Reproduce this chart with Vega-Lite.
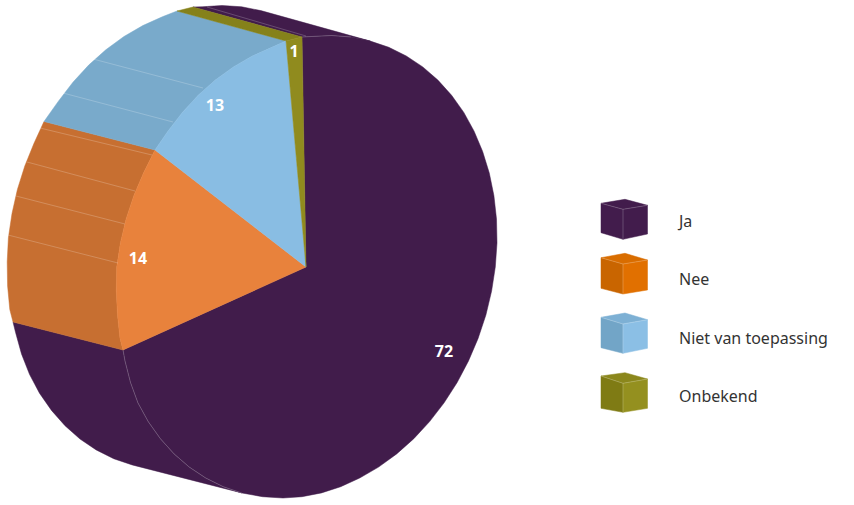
{
"$schema":"https://vega.github.io/schema/vega-lite/v6.json",
"width":854,"height":505,"padding":0,
"autosize":{"type":"fit","contains":"padding"},
"background":"#ffffff",
"config":{"view":{"stroke":null}},
"datasets":{
"faces":[
{"p":"Ja zij onder","x":-64.3,"y":-225.9},{"p":"Ja zij onder","x":-82.8,"y":-219.7},{"p":"Ja zij onder","x":-100.3,"y":-211},{"p":"Ja zij onder","x":-116.75,"y":-200.1},{"p":"Ja zij onder","x":-131.9,"y":-186.9},{"p":"Ja zij onder","x":-145.6,"y":-171.7},{"p":"Ja zij onder","x":-157.8,"y":-154.6},{"p":"Ja zij onder","x":-168.1,"y":-135.8},{"p":"Ja zij onder","x":-175.5,"y":-115.5},{"p":"Ja zij onder","x":-181,"y":-94},{"p":"Ja zij onder","x":-183,"y":-83},
{"p":"Ja zij onder","x":-293,"y":-55},{"p":"Ja zij onder","x":-290.5,"y":-65.2},{"p":"Ja zij onder","x":-284.5,"y":-86.9},{"p":"Ja zij onder","x":-276.5,"y":-107.3},{"p":"Ja zij onder","x":-266.5,"y":-126.2},{"p":"Ja zij onder","x":-254.5,"y":-143.4},{"p":"Ja zij onder","x":-241,"y":-158.7},{"p":"Ja zij onder","x":-226,"y":-172},{"p":"Ja zij onder","x":-209.8,"y":-182.9},{"p":"Ja zij onder","x":-192.3,"y":-191.7},{"p":"Ja zij onder","x":-173.8,"y":-197.9},
{"p":"Ja zij boven","x":-4,"y":230},{"p":"Ja zij boven","x":5.6,"y":230.5},{"p":"Ja zij boven","x":25.5,"y":231.5},{"p":"Ja zij boven","x":45.2,"y":230},{"p":"Ja zij boven","x":64.3,"y":225.9},{"p":"Ja zij boven","x":-45.2,"y":256.4},{"p":"Ja zij boven","x":-64.3,"y":260.2},{"p":"Ja zij boven","x":-84,"y":261.5},{"p":"Ja zij boven","x":-103.9,"y":260.2},{"p":"Ja zij boven","x":-113,"y":260},
{"p":"Nee zij","x":-183,"y":-83},{"p":"Nee zij","x":-186,"y":-71.4},{"p":"Nee zij","x":-188.5,"y":-48},{"p":"Nee zij","x":-189.7,"y":-24.1},{"p":"Nee zij","x":-189.3,"y":0},{"p":"Nee zij","x":-185.6,"y":24.1},{"p":"Nee zij","x":-179.9,"y":48},{"p":"Nee zij","x":-172.1,"y":71.4},{"p":"Nee zij","x":-162.5,"y":93.9},{"p":"Nee zij","x":-151,"y":117},
{"p":"Nee zij","x":-262,"y":145.5},{"p":"Nee zij","x":-272,"y":123.7},{"p":"Nee zij","x":-281.2,"y":101},{"p":"Nee zij","x":-288.6,"y":77.5},{"p":"Nee zij","x":-294,"y":53.5},{"p":"Nee zij","x":-297.6,"y":29.25},{"p":"Nee zij","x":-298.8,"y":5},{"p":"Nee zij","x":-298.4,"y":-19},{"p":"Nee zij","x":-296.2,"y":-42.5},{"p":"Nee zij","x":-293,"y":-55},
{"p":"Niet zij","x":-151,"y":117},{"p":"Niet zij","x":-138.1,"y":135.8},{"p":"Niet zij","x":-123.6,"y":154.6},{"p":"Niet zij","x":-107.8,"y":171.7},{"p":"Niet zij","x":-90.7,"y":186.9},{"p":"Niet zij","x":-72.55,"y":200.1},{"p":"Niet zij","x":-53.7,"y":211},{"p":"Niet zij","x":-34.2,"y":219.7},{"p":"Niet zij","x":-20,"y":226},
{"p":"Niet zij","x":-129,"y":256},{"p":"Niet zij","x":-143.7,"y":250.2},{"p":"Niet zij","x":-163.2,"y":241.4},{"p":"Niet zij","x":-182.05,"y":230.5},{"p":"Niet zij","x":-200.2,"y":217.2},{"p":"Niet zij","x":-217.3,"y":201.9},{"p":"Niet zij","x":-233.1,"y":184.7},{"p":"Niet zij","x":-247.6,"y":165.8},{"p":"Niet zij","x":-262,"y":145.5},
{"p":"Onb zij","x":-20,"y":226},{"p":"Onb zij","x":-4,"y":230},{"p":"Onb zij","x":-113,"y":260},{"p":"Onb zij","x":-129,"y":256},
{"p":"Ja vlak","x":0,"y":0},{"p":"Ja vlak","x":-4,"y":230},{"p":"Ja vlak","x":5.6,"y":230.5},{"p":"Ja vlak","x":25.5,"y":231.5},{"p":"Ja vlak","x":45.2,"y":230},{"p":"Ja vlak","x":64.3,"y":225.9},{"p":"Ja vlak","x":82.8,"y":219.7},{"p":"Ja vlak","x":100.3,"y":211},{"p":"Ja vlak","x":116.75,"y":200.1},{"p":"Ja vlak","x":131.9,"y":186.9},{"p":"Ja vlak","x":145.6,"y":171.7},{"p":"Ja vlak","x":157.8,"y":154.6},{"p":"Ja vlak","x":168.1,"y":135.8},{"p":"Ja vlak","x":176.65,"y":115.5},{"p":"Ja vlak","x":183.3,"y":93.9},{"p":"Ja vlak","x":187.9,"y":71.4},{"p":"Ja vlak","x":190.5,"y":48},{"p":"Ja vlak","x":191,"y":24.1},{"p":"Ja vlak","x":189.3,"y":0},{"p":"Ja vlak","x":185.6,"y":-24.1},{"p":"Ja vlak","x":179.9,"y":-48},{"p":"Ja vlak","x":172.1,"y":-71.4},{"p":"Ja vlak","x":162.5,"y":-93.9},{"p":"Ja vlak","x":151.15,"y":-115.5},{"p":"Ja vlak","x":138.1,"y":-135.8},{"p":"Ja vlak","x":123.6,"y":-154.6},{"p":"Ja vlak","x":107.8,"y":-171.7},{"p":"Ja vlak","x":90.7,"y":-186.9},{"p":"Ja vlak","x":72.55,"y":-200.1},{"p":"Ja vlak","x":53.7,"y":-211},{"p":"Ja vlak","x":34.7,"y":-219.7},{"p":"Ja vlak","x":15.5,"y":-225.9},{"p":"Ja vlak","x":-4,"y":-229.7},{"p":"Ja vlak","x":-23,"y":-231},{"p":"Ja vlak","x":-43.5,"y":-229.7},{"p":"Ja vlak","x":-64.3,"y":-225.9},{"p":"Ja vlak","x":-82.8,"y":-219.7},{"p":"Ja vlak","x":-100.3,"y":-211},{"p":"Ja vlak","x":-116.75,"y":-200.1},{"p":"Ja vlak","x":-131.9,"y":-186.9},{"p":"Ja vlak","x":-145.6,"y":-171.7},{"p":"Ja vlak","x":-157.8,"y":-154.6},{"p":"Ja vlak","x":-168.1,"y":-135.8},{"p":"Ja vlak","x":-175.5,"y":-115.5},{"p":"Ja vlak","x":-181,"y":-94},{"p":"Ja vlak","x":-183,"y":-83},
{"p":"Nee vlak","x":0,"y":0},{"p":"Nee vlak","x":-183,"y":-83},{"p":"Nee vlak","x":-186,"y":-71.4},{"p":"Nee vlak","x":-188.5,"y":-48},{"p":"Nee vlak","x":-189.7,"y":-24.1},{"p":"Nee vlak","x":-189.3,"y":0},{"p":"Nee vlak","x":-185.6,"y":24.1},{"p":"Nee vlak","x":-179.9,"y":48},{"p":"Nee vlak","x":-172.1,"y":71.4},{"p":"Nee vlak","x":-162.5,"y":93.9},{"p":"Nee vlak","x":-151,"y":117},
{"p":"Niet vlak","x":0,"y":0},{"p":"Niet vlak","x":-151,"y":117},{"p":"Niet vlak","x":-138.1,"y":135.8},{"p":"Niet vlak","x":-123.6,"y":154.6},{"p":"Niet vlak","x":-107.8,"y":171.7},{"p":"Niet vlak","x":-90.7,"y":186.9},{"p":"Niet vlak","x":-72.55,"y":200.1},{"p":"Niet vlak","x":-53.7,"y":211},{"p":"Niet vlak","x":-34.2,"y":219.7},{"p":"Niet vlak","x":-20,"y":226},
{"p":"Onb vlak","x":0,"y":0},{"p":"Onb vlak","x":-20,"y":226},{"p":"Onb vlak","x":-4,"y":230},
{"p":"Ja kubus links","x":295,"y":63.7},{"p":"Ja kubus links","x":317,"y":57.7},{"p":"Ja kubus links","x":317,"y":27.7},{"p":"Ja kubus links","x":295,"y":34.3},
{"p":"Ja kubus boven","x":295,"y":63.7},{"p":"Ja kubus boven","x":319,"y":67.7},{"p":"Ja kubus boven","x":341.5,"y":61.7},{"p":"Ja kubus boven","x":317,"y":57.7},
{"p":"Ja kubus voor","x":317,"y":57.7},{"p":"Ja kubus voor","x":341.5,"y":61.7},{"p":"Ja kubus voor","x":341.5,"y":33},{"p":"Ja kubus voor","x":317,"y":27.7},
{"p":"Nee kubus links","x":295,"y":9.3},{"p":"Nee kubus links","x":317,"y":3},{"p":"Nee kubus links","x":317,"y":-27},{"p":"Nee kubus links","x":295,"y":-21.3},
{"p":"Nee kubus boven","x":295,"y":9.3},{"p":"Nee kubus boven","x":319,"y":13.7},{"p":"Nee kubus boven","x":341.5,"y":7},{"p":"Nee kubus boven","x":317,"y":3},
{"p":"Nee kubus voor","x":317,"y":3},{"p":"Nee kubus voor","x":341.5,"y":7},{"p":"Nee kubus voor","x":341.5,"y":-23},{"p":"Nee kubus voor","x":317,"y":-27},
{"p":"Niet kubus links","x":295,"y":-50.3},{"p":"Niet kubus links","x":317,"y":-57},{"p":"Niet kubus links","x":317,"y":-86.3},{"p":"Niet kubus links","x":295,"y":-80.7},
{"p":"Niet kubus boven","x":295,"y":-50.3},{"p":"Niet kubus boven","x":319,"y":-46},{"p":"Niet kubus boven","x":341.5,"y":-52.7},{"p":"Niet kubus boven","x":317,"y":-57},
{"p":"Niet kubus voor","x":317,"y":-57},{"p":"Niet kubus voor","x":341.5,"y":-52.7},{"p":"Niet kubus voor","x":341.5,"y":-81.3},{"p":"Niet kubus voor","x":317,"y":-86.3},
{"p":"Onb kubus links","x":295,"y":-109},{"p":"Onb kubus links","x":317,"y":-116.3},{"p":"Onb kubus links","x":317,"y":-145.3},{"p":"Onb kubus links","x":295,"y":-141.3},
{"p":"Onb kubus boven","x":295,"y":-109},{"p":"Onb kubus boven","x":319,"y":-105.7},{"p":"Onb kubus boven","x":341.5,"y":-112},{"p":"Onb kubus boven","x":317,"y":-116.3},
{"p":"Onb kubus voor","x":317,"y":-116.3},{"p":"Onb kubus voor","x":341.5,"y":-112},{"p":"Onb kubus voor","x":341.5,"y":-141.3},{"p":"Onb kubus voor","x":317,"y":-145.3}
],
"seams":[
{"s":"n1","x":-188,"y":4},{"s":"n1","x":-298,"y":32},
{"s":"n2","x":-181,"y":43},{"s":"n2","x":-290,"y":71},
{"s":"n3","x":-171,"y":76},{"s":"n3","x":-279,"y":105},
{"s":"n4","x":-154,"y":112},{"s":"n4","x":-266,"y":139},
{"s":"b1","x":-133,"y":145},{"s":"b1","x":-243,"y":174},
{"s":"b2","x":-103,"y":179},{"s":"b2","x":-213,"y":208},
{"s":"t1","x":0,"y":231},{"s":"t1","x":-99,"y":260},
{"s":"t2","x":-4,"y":230},{"s":"t2","x":5.6,"y":230.5},{"s":"t2","x":25.5,"y":231.5},{"s":"t2","x":45.2,"y":230},
{"s":"f1","x":-64.3,"y":-225.9},{"s":"f1","x":-82.8,"y":-219.7},{"s":"f1","x":-100.3,"y":-211},{"s":"f1","x":-116.75,"y":-200.1},{"s":"f1","x":-131.9,"y":-186.9},{"s":"f1","x":-145.6,"y":-171.7},{"s":"f1","x":-157.8,"y":-154.6},{"s":"f1","x":-168.1,"y":-135.8},{"s":"f1","x":-175.5,"y":-115.5},{"s":"f1","x":-181,"y":-94},{"s":"f1","x":-183,"y":-83},
{"s":"c1","x":295,"y":63.7},{"s":"c1","x":317,"y":57.7},{"s":"c1","x":341.5,"y":61.7},
{"s":"c2","x":317,"y":57.7},{"s":"c2","x":317,"y":27.7},
{"s":"c3","x":295,"y":9.3},{"s":"c3","x":317,"y":3},{"s":"c3","x":341.5,"y":7},
{"s":"c4","x":317,"y":3},{"s":"c4","x":317,"y":-27},
{"s":"c5","x":295,"y":-50.3},{"s":"c5","x":317,"y":-57},{"s":"c5","x":341.5,"y":-52.7},
{"s":"c6","x":317,"y":-57},{"s":"c6","x":317,"y":-86.3},
{"s":"c7","x":295,"y":-109},{"s":"c7","x":317,"y":-116.3},{"s":"c7","x":341.5,"y":-112},
{"s":"c8","x":317,"y":-116.3},{"s":"c8","x":317,"y":-145.3}
],
"slices":[
{"antwoord":"Ja","aandeel":72,"x":138,"y":-85},
{"antwoord":"Nee","aandeel":14,"x":-168,"y":8},
{"antwoord":"Niet van toepassing","aandeel":13,"x":-91,"y":161},
{"antwoord":"Onbekend","aandeel":1,"x":-12,"y":215}
],
"legend":[
{"antwoord":"Ja","x":373,"y":45},
{"antwoord":"Nee","x":373,"y":-13},
{"antwoord":"Niet van toepassing","x":373,"y":-72},
{"antwoord":"Onbekend","x":373,"y":-130}
]
},
"encoding":{
"x":{"field":"x","type":"quantitative","axis":null,"scale":{"domain":[-306,548],"nice":false,"zero":false}},
"y":{"field":"y","type":"quantitative","axis":null,"scale":{"domain":[-238,267],"nice":false,"zero":false}}
},
"layer":[
{"data":{"name":"faces"},
 "mark":{"type":"line","filled":true,"strokeWidth":0.5,"interpolate":"linear-closed"},
 "encoding":{
  "order":{"value":null},
  "color":{"field":"p","type":"nominal","legend":null,"scale":{
   "domain":["Ja zij onder","Ja zij boven","Nee zij","Niet zij","Onb zij","Ja vlak","Nee vlak","Niet vlak","Onb vlak","Ja kubus links","Ja kubus boven","Ja kubus voor","Nee kubus links","Nee kubus boven","Nee kubus voor","Niet kubus links","Niet kubus boven","Niet kubus voor","Onb kubus links","Onb kubus boven","Onb kubus voor"],
   "range":["#411c4b","#411c4b","#c76f31","#79aacb","#85811a","#411c4b","#e8823c","#89bde3","#908b1e","#421c4c","#421c4c","#421c4c","#c96500","#d96d00","#e17000","#72a5c7","#7db0d4","#8bbfe5","#7f7b14","#8b871c","#94901f"]}},
  "stroke":{"field":"p","type":"nominal","legend":null,"scale":{
   "domain":["Ja zij onder","Ja zij boven","Nee zij","Niet zij","Onb zij","Ja vlak","Nee vlak","Niet vlak","Onb vlak","Ja kubus links","Ja kubus boven","Ja kubus voor","Nee kubus links","Nee kubus boven","Nee kubus voor","Niet kubus links","Niet kubus boven","Niet kubus voor","Onb kubus links","Onb kubus boven","Onb kubus voor"],
   "range":["#411c4b","#411c4b","#c76f31","#79aacb","#85811a","#411c4b","#e8823c","#89bde3","#908b1e","#421c4c","#421c4c","#421c4c","#c96500","#d96d00","#e17000","#72a5c7","#7db0d4","#8bbfe5","#7f7b14","#8b871c","#94901f"]}}
 }},
{"data":{"name":"seams"},
 "mark":{"type":"line","stroke":"#ffffff","strokeOpacity":0.3,"strokeWidth":0.7},
 "encoding":{"order":{"value":null},"detail":{"field":"s"}}},
{"data":{"name":"slices"},
 "mark":{"type":"text","font":"Noto Sans","fontWeight":"bold","fontSize":16,"fill":"#ffffff","align":"center","baseline":"middle"},
 "encoding":{"text":{"field":"aandeel","type":"quantitative"}}},
{"data":{"name":"legend"},
 "mark":{"type":"text","font":"Noto Sans","fontSize":16,"fill":"#333333","align":"left","baseline":"middle"},
 "encoding":{"text":{"field":"antwoord","type":"nominal"}}}
]
}
